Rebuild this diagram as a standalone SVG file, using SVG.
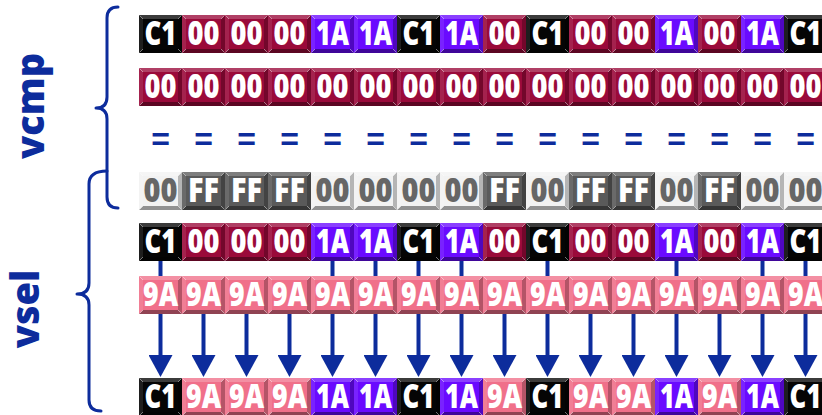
<svg xmlns="http://www.w3.org/2000/svg" width="822" height="415" viewBox="0 0 822 415">
<style>
.t{font-family:"Open Sans","Liberation Sans",Arial,sans-serif;font-weight:800;font-size:33px;text-anchor:middle;fill:#fff}
.g{fill:#666}
.lbl{font-family:"Open Sans","Liberation Sans",sans-serif;font-weight:800;font-size:38px;text-anchor:middle;fill:#0D2C9C}
.eq{font-family:"Liberation Sans",Arial,sans-serif;font-weight:bold;font-size:32px;text-anchor:middle;fill:#0D2C9C}
.brace{fill:none;stroke:#0D2C9C;stroke-width:3;stroke-linecap:round;stroke-linejoin:round}
.ar{stroke:#0D2C9C;stroke-width:4;fill:none}
</style>
<defs>
<marker id="ah" markerUnits="userSpaceOnUse" markerWidth="22" markerHeight="24" viewBox="0 0 22 24" refX="0" refY="12" orient="auto"><path d="M0,0 L22,12 L0,24 z" fill="#0D2C9C"/></marker>
<g id="bev">
<polygon points="0,0 43,0 39,4 4,4" fill="#fff" fill-opacity=".22"/>
<polygon points="0,0 4,4 4,34 0,38" fill="#fff" fill-opacity=".1"/>
<polygon points="43,0 43,38 39,34 39,4" fill="#000" fill-opacity=".25"/>
<polygon points="0,38 4,34 39,34 43,38" fill="#000" fill-opacity=".4"/>
<path d="M0.5,0.5 L4,4 M42.5,37.5 L39,34 M42.5,0.5 L39,4 M0.5,37.5 L4,34" stroke="#fff" stroke-opacity=".45" stroke-width="1"/>
</g>
<g id="k-C1"><rect width="43" height="38" fill="#050505"/><use href="#bev"/></g>
<g id="k-00"><rect width="43" height="38" fill="#9A0A3A"/><use href="#bev"/></g>
<g id="k-1A"><rect width="43" height="38" fill="#6A0AFF"/><use href="#bev"/></g>
<g id="k-9A"><rect width="43" height="38" fill="#F0708A"/><use href="#bev"/></g>
<g id="k-FF"><rect width="43" height="38" fill="#5A5A5A"/><use href="#bev"/></g>
<g id="k-0L"><rect width="43" height="38" fill="#F2F2F2"/><use href="#bev"/></g>
</defs>
<rect width="822" height="415" fill="#fff"/>

<g id="label-vcmp"><text class="lbl" transform="translate(44,106) rotate(-90)">vcmp</text></g>
<g id="label-vsel"><text class="lbl" transform="translate(39,309) rotate(-90)">vsel</text></g>
<g id="brace-vcmp"><path class="brace" d="M118,7 Q107,7 107,18 L107,97 Q107,108 96,108 Q107,108 107,119 L107,197 Q107,208 118,208"/></g>
<g id="brace-vsel"><path class="brace" d="M107,171 Q89,171 89,184 L89,283 Q89,294 77,294 Q89,294 89,305 L89,400 Q89,411 101,411"/></g>

<g id="connectors">
<line class="ar" x1="160.5" y1="261" x2="160.5" y2="355" marker-end="url(#ah)"/>
<line class="ar" x1="203.5" y1="314" x2="203.5" y2="355" marker-end="url(#ah)"/>
<line class="ar" x1="246.5" y1="314" x2="246.5" y2="355" marker-end="url(#ah)"/>
<line class="ar" x1="289.5" y1="314" x2="289.5" y2="355" marker-end="url(#ah)"/>
<line class="ar" x1="332.5" y1="261" x2="332.5" y2="355" marker-end="url(#ah)"/>
<line class="ar" x1="375.5" y1="261" x2="375.5" y2="355" marker-end="url(#ah)"/>
<line class="ar" x1="418.5" y1="261" x2="418.5" y2="355" marker-end="url(#ah)"/>
<line class="ar" x1="461.5" y1="261" x2="461.5" y2="355" marker-end="url(#ah)"/>
<line class="ar" x1="504.5" y1="314" x2="504.5" y2="355" marker-end="url(#ah)"/>
<line class="ar" x1="547.5" y1="261" x2="547.5" y2="355" marker-end="url(#ah)"/>
<line class="ar" x1="590.5" y1="314" x2="590.5" y2="355" marker-end="url(#ah)"/>
<line class="ar" x1="633.5" y1="314" x2="633.5" y2="355" marker-end="url(#ah)"/>
<line class="ar" x1="676.5" y1="261" x2="676.5" y2="355" marker-end="url(#ah)"/>
<line class="ar" x1="719.5" y1="314" x2="719.5" y2="355" marker-end="url(#ah)"/>
<line class="ar" x1="762.5" y1="261" x2="762.5" y2="355" marker-end="url(#ah)"/>
<line class="ar" x1="805.5" y1="261" x2="805.5" y2="355" marker-end="url(#ah)"/>
</g>

<g id="row1">
<g id="r1c0"><use href="#k-C1" x="139" y="15"/><text class="t" x="160.5" y="45" textLength="32" lengthAdjust="spacingAndGlyphs">C1</text></g>
<g id="r1c1"><use href="#k-00" x="182" y="15"/><text class="t" x="203.5" y="45" textLength="32" lengthAdjust="spacingAndGlyphs">00</text></g>
<g id="r1c2"><use href="#k-00" x="225" y="15"/><text class="t" x="246.5" y="45" textLength="32" lengthAdjust="spacingAndGlyphs">00</text></g>
<g id="r1c3"><use href="#k-00" x="268" y="15"/><text class="t" x="289.5" y="45" textLength="32" lengthAdjust="spacingAndGlyphs">00</text></g>
<g id="r1c4"><use href="#k-1A" x="311" y="15"/><text class="t" x="332.5" y="45" textLength="33" lengthAdjust="spacingAndGlyphs">1A</text></g>
<g id="r1c5"><use href="#k-1A" x="354" y="15"/><text class="t" x="375.5" y="45" textLength="33" lengthAdjust="spacingAndGlyphs">1A</text></g>
<g id="r1c6"><use href="#k-C1" x="397" y="15"/><text class="t" x="418.5" y="45" textLength="32" lengthAdjust="spacingAndGlyphs">C1</text></g>
<g id="r1c7"><use href="#k-1A" x="440" y="15"/><text class="t" x="461.5" y="45" textLength="33" lengthAdjust="spacingAndGlyphs">1A</text></g>
<g id="r1c8"><use href="#k-00" x="483" y="15"/><text class="t" x="504.5" y="45" textLength="32" lengthAdjust="spacingAndGlyphs">00</text></g>
<g id="r1c9"><use href="#k-C1" x="526" y="15"/><text class="t" x="547.5" y="45" textLength="32" lengthAdjust="spacingAndGlyphs">C1</text></g>
<g id="r1c10"><use href="#k-00" x="569" y="15"/><text class="t" x="590.5" y="45" textLength="32" lengthAdjust="spacingAndGlyphs">00</text></g>
<g id="r1c11"><use href="#k-00" x="612" y="15"/><text class="t" x="633.5" y="45" textLength="32" lengthAdjust="spacingAndGlyphs">00</text></g>
<g id="r1c12"><use href="#k-1A" x="655" y="15"/><text class="t" x="676.5" y="45" textLength="33" lengthAdjust="spacingAndGlyphs">1A</text></g>
<g id="r1c13"><use href="#k-00" x="698" y="15"/><text class="t" x="719.5" y="45" textLength="32" lengthAdjust="spacingAndGlyphs">00</text></g>
<g id="r1c14"><use href="#k-1A" x="741" y="15"/><text class="t" x="762.5" y="45" textLength="33" lengthAdjust="spacingAndGlyphs">1A</text></g>
<g id="r1c15"><use href="#k-C1" x="784" y="15"/><text class="t" x="805.5" y="45" textLength="32" lengthAdjust="spacingAndGlyphs">C1</text></g>
</g>

<g id="row2">
<g id="r2c0"><use href="#k-00" x="139" y="68"/><text class="t" x="160.5" y="98" textLength="32" lengthAdjust="spacingAndGlyphs">00</text></g>
<g id="r2c1"><use href="#k-00" x="182" y="68"/><text class="t" x="203.5" y="98" textLength="32" lengthAdjust="spacingAndGlyphs">00</text></g>
<g id="r2c2"><use href="#k-00" x="225" y="68"/><text class="t" x="246.5" y="98" textLength="32" lengthAdjust="spacingAndGlyphs">00</text></g>
<g id="r2c3"><use href="#k-00" x="268" y="68"/><text class="t" x="289.5" y="98" textLength="32" lengthAdjust="spacingAndGlyphs">00</text></g>
<g id="r2c4"><use href="#k-00" x="311" y="68"/><text class="t" x="332.5" y="98" textLength="32" lengthAdjust="spacingAndGlyphs">00</text></g>
<g id="r2c5"><use href="#k-00" x="354" y="68"/><text class="t" x="375.5" y="98" textLength="32" lengthAdjust="spacingAndGlyphs">00</text></g>
<g id="r2c6"><use href="#k-00" x="397" y="68"/><text class="t" x="418.5" y="98" textLength="32" lengthAdjust="spacingAndGlyphs">00</text></g>
<g id="r2c7"><use href="#k-00" x="440" y="68"/><text class="t" x="461.5" y="98" textLength="32" lengthAdjust="spacingAndGlyphs">00</text></g>
<g id="r2c8"><use href="#k-00" x="483" y="68"/><text class="t" x="504.5" y="98" textLength="32" lengthAdjust="spacingAndGlyphs">00</text></g>
<g id="r2c9"><use href="#k-00" x="526" y="68"/><text class="t" x="547.5" y="98" textLength="32" lengthAdjust="spacingAndGlyphs">00</text></g>
<g id="r2c10"><use href="#k-00" x="569" y="68"/><text class="t" x="590.5" y="98" textLength="32" lengthAdjust="spacingAndGlyphs">00</text></g>
<g id="r2c11"><use href="#k-00" x="612" y="68"/><text class="t" x="633.5" y="98" textLength="32" lengthAdjust="spacingAndGlyphs">00</text></g>
<g id="r2c12"><use href="#k-00" x="655" y="68"/><text class="t" x="676.5" y="98" textLength="32" lengthAdjust="spacingAndGlyphs">00</text></g>
<g id="r2c13"><use href="#k-00" x="698" y="68"/><text class="t" x="719.5" y="98" textLength="32" lengthAdjust="spacingAndGlyphs">00</text></g>
<g id="r2c14"><use href="#k-00" x="741" y="68"/><text class="t" x="762.5" y="98" textLength="32" lengthAdjust="spacingAndGlyphs">00</text></g>
<g id="r2c15"><use href="#k-00" x="784" y="68"/><text class="t" x="805.5" y="98" textLength="32" lengthAdjust="spacingAndGlyphs">00</text></g>
</g>

<g id="row3-equals">
<text class="eq" x="160.5" y="150">=</text><text class="eq" x="203.5" y="150">=</text><text class="eq" x="246.5" y="150">=</text><text class="eq" x="289.5" y="150">=</text>
<text class="eq" x="332.5" y="150">=</text><text class="eq" x="375.5" y="150">=</text><text class="eq" x="418.5" y="150">=</text><text class="eq" x="461.5" y="150">=</text>
<text class="eq" x="504.5" y="150">=</text><text class="eq" x="547.5" y="150">=</text><text class="eq" x="590.5" y="150">=</text><text class="eq" x="633.5" y="150">=</text>
<text class="eq" x="676.5" y="150">=</text><text class="eq" x="719.5" y="150">=</text><text class="eq" x="762.5" y="150">=</text><text class="eq" x="805.5" y="150">=</text>
</g>

<g id="row4">
<g id="r4c0"><use href="#k-0L" x="139" y="172"/><text class="t g" x="160.5" y="202" textLength="34" lengthAdjust="spacingAndGlyphs">00</text></g>
<g id="r4c1"><use href="#k-FF" x="182" y="172"/><text class="t" x="203.5" y="202" textLength="31" lengthAdjust="spacingAndGlyphs">FF</text></g>
<g id="r4c2"><use href="#k-FF" x="225" y="172"/><text class="t" x="246.5" y="202" textLength="31" lengthAdjust="spacingAndGlyphs">FF</text></g>
<g id="r4c3"><use href="#k-FF" x="268" y="172"/><text class="t" x="289.5" y="202" textLength="31" lengthAdjust="spacingAndGlyphs">FF</text></g>
<g id="r4c4"><use href="#k-0L" x="311" y="172"/><text class="t g" x="332.5" y="202" textLength="34" lengthAdjust="spacingAndGlyphs">00</text></g>
<g id="r4c5"><use href="#k-0L" x="354" y="172"/><text class="t g" x="375.5" y="202" textLength="34" lengthAdjust="spacingAndGlyphs">00</text></g>
<g id="r4c6"><use href="#k-0L" x="397" y="172"/><text class="t g" x="418.5" y="202" textLength="34" lengthAdjust="spacingAndGlyphs">00</text></g>
<g id="r4c7"><use href="#k-0L" x="440" y="172"/><text class="t g" x="461.5" y="202" textLength="34" lengthAdjust="spacingAndGlyphs">00</text></g>
<g id="r4c8"><use href="#k-FF" x="483" y="172"/><text class="t" x="504.5" y="202" textLength="31" lengthAdjust="spacingAndGlyphs">FF</text></g>
<g id="r4c9"><use href="#k-0L" x="526" y="172"/><text class="t g" x="547.5" y="202" textLength="34" lengthAdjust="spacingAndGlyphs">00</text></g>
<g id="r4c10"><use href="#k-FF" x="569" y="172"/><text class="t" x="590.5" y="202" textLength="31" lengthAdjust="spacingAndGlyphs">FF</text></g>
<g id="r4c11"><use href="#k-FF" x="612" y="172"/><text class="t" x="633.5" y="202" textLength="31" lengthAdjust="spacingAndGlyphs">FF</text></g>
<g id="r4c12"><use href="#k-0L" x="655" y="172"/><text class="t g" x="676.5" y="202" textLength="34" lengthAdjust="spacingAndGlyphs">00</text></g>
<g id="r4c13"><use href="#k-FF" x="698" y="172"/><text class="t" x="719.5" y="202" textLength="31" lengthAdjust="spacingAndGlyphs">FF</text></g>
<g id="r4c14"><use href="#k-0L" x="741" y="172"/><text class="t g" x="762.5" y="202" textLength="34" lengthAdjust="spacingAndGlyphs">00</text></g>
<g id="r4c15"><use href="#k-0L" x="784" y="172"/><text class="t g" x="805.5" y="202" textLength="34" lengthAdjust="spacingAndGlyphs">00</text></g>
</g>

<g id="row5">
<g id="r5c0"><use href="#k-C1" x="139" y="223"/><text class="t" x="160.5" y="253" textLength="32" lengthAdjust="spacingAndGlyphs">C1</text></g>
<g id="r5c1"><use href="#k-00" x="182" y="223"/><text class="t" x="203.5" y="253" textLength="32" lengthAdjust="spacingAndGlyphs">00</text></g>
<g id="r5c2"><use href="#k-00" x="225" y="223"/><text class="t" x="246.5" y="253" textLength="32" lengthAdjust="spacingAndGlyphs">00</text></g>
<g id="r5c3"><use href="#k-00" x="268" y="223"/><text class="t" x="289.5" y="253" textLength="32" lengthAdjust="spacingAndGlyphs">00</text></g>
<g id="r5c4"><use href="#k-1A" x="311" y="223"/><text class="t" x="332.5" y="253" textLength="33" lengthAdjust="spacingAndGlyphs">1A</text></g>
<g id="r5c5"><use href="#k-1A" x="354" y="223"/><text class="t" x="375.5" y="253" textLength="33" lengthAdjust="spacingAndGlyphs">1A</text></g>
<g id="r5c6"><use href="#k-C1" x="397" y="223"/><text class="t" x="418.5" y="253" textLength="32" lengthAdjust="spacingAndGlyphs">C1</text></g>
<g id="r5c7"><use href="#k-1A" x="440" y="223"/><text class="t" x="461.5" y="253" textLength="33" lengthAdjust="spacingAndGlyphs">1A</text></g>
<g id="r5c8"><use href="#k-00" x="483" y="223"/><text class="t" x="504.5" y="253" textLength="32" lengthAdjust="spacingAndGlyphs">00</text></g>
<g id="r5c9"><use href="#k-C1" x="526" y="223"/><text class="t" x="547.5" y="253" textLength="32" lengthAdjust="spacingAndGlyphs">C1</text></g>
<g id="r5c10"><use href="#k-00" x="569" y="223"/><text class="t" x="590.5" y="253" textLength="32" lengthAdjust="spacingAndGlyphs">00</text></g>
<g id="r5c11"><use href="#k-00" x="612" y="223"/><text class="t" x="633.5" y="253" textLength="32" lengthAdjust="spacingAndGlyphs">00</text></g>
<g id="r5c12"><use href="#k-1A" x="655" y="223"/><text class="t" x="676.5" y="253" textLength="33" lengthAdjust="spacingAndGlyphs">1A</text></g>
<g id="r5c13"><use href="#k-00" x="698" y="223"/><text class="t" x="719.5" y="253" textLength="32" lengthAdjust="spacingAndGlyphs">00</text></g>
<g id="r5c14"><use href="#k-1A" x="741" y="223"/><text class="t" x="762.5" y="253" textLength="33" lengthAdjust="spacingAndGlyphs">1A</text></g>
<g id="r5c15"><use href="#k-C1" x="784" y="223"/><text class="t" x="805.5" y="253" textLength="32" lengthAdjust="spacingAndGlyphs">C1</text></g>
</g>

<g id="row6">
<g id="r6c0"><use href="#k-9A" x="139" y="276"/><text class="t" x="160.5" y="306" textLength="35" lengthAdjust="spacingAndGlyphs">9A</text></g>
<g id="r6c1"><use href="#k-9A" x="182" y="276"/><text class="t" x="203.5" y="306" textLength="35" lengthAdjust="spacingAndGlyphs">9A</text></g>
<g id="r6c2"><use href="#k-9A" x="225" y="276"/><text class="t" x="246.5" y="306" textLength="35" lengthAdjust="spacingAndGlyphs">9A</text></g>
<g id="r6c3"><use href="#k-9A" x="268" y="276"/><text class="t" x="289.5" y="306" textLength="35" lengthAdjust="spacingAndGlyphs">9A</text></g>
<g id="r6c4"><use href="#k-9A" x="311" y="276"/><text class="t" x="332.5" y="306" textLength="35" lengthAdjust="spacingAndGlyphs">9A</text></g>
<g id="r6c5"><use href="#k-9A" x="354" y="276"/><text class="t" x="375.5" y="306" textLength="35" lengthAdjust="spacingAndGlyphs">9A</text></g>
<g id="r6c6"><use href="#k-9A" x="397" y="276"/><text class="t" x="418.5" y="306" textLength="35" lengthAdjust="spacingAndGlyphs">9A</text></g>
<g id="r6c7"><use href="#k-9A" x="440" y="276"/><text class="t" x="461.5" y="306" textLength="35" lengthAdjust="spacingAndGlyphs">9A</text></g>
<g id="r6c8"><use href="#k-9A" x="483" y="276"/><text class="t" x="504.5" y="306" textLength="35" lengthAdjust="spacingAndGlyphs">9A</text></g>
<g id="r6c9"><use href="#k-9A" x="526" y="276"/><text class="t" x="547.5" y="306" textLength="35" lengthAdjust="spacingAndGlyphs">9A</text></g>
<g id="r6c10"><use href="#k-9A" x="569" y="276"/><text class="t" x="590.5" y="306" textLength="35" lengthAdjust="spacingAndGlyphs">9A</text></g>
<g id="r6c11"><use href="#k-9A" x="612" y="276"/><text class="t" x="633.5" y="306" textLength="35" lengthAdjust="spacingAndGlyphs">9A</text></g>
<g id="r6c12"><use href="#k-9A" x="655" y="276"/><text class="t" x="676.5" y="306" textLength="35" lengthAdjust="spacingAndGlyphs">9A</text></g>
<g id="r6c13"><use href="#k-9A" x="698" y="276"/><text class="t" x="719.5" y="306" textLength="35" lengthAdjust="spacingAndGlyphs">9A</text></g>
<g id="r6c14"><use href="#k-9A" x="741" y="276"/><text class="t" x="762.5" y="306" textLength="35" lengthAdjust="spacingAndGlyphs">9A</text></g>
<g id="r6c15"><use href="#k-9A" x="784" y="276"/><text class="t" x="805.5" y="306" textLength="35" lengthAdjust="spacingAndGlyphs">9A</text></g>
</g>

<g id="row7">
<g id="r7c0"><use href="#k-C1" x="139" y="378"/><text class="t" x="160.5" y="408" textLength="32" lengthAdjust="spacingAndGlyphs">C1</text></g>
<g id="r7c1"><use href="#k-9A" x="182" y="378"/><text class="t" x="203.5" y="408" textLength="35" lengthAdjust="spacingAndGlyphs">9A</text></g>
<g id="r7c2"><use href="#k-9A" x="225" y="378"/><text class="t" x="246.5" y="408" textLength="35" lengthAdjust="spacingAndGlyphs">9A</text></g>
<g id="r7c3"><use href="#k-9A" x="268" y="378"/><text class="t" x="289.5" y="408" textLength="35" lengthAdjust="spacingAndGlyphs">9A</text></g>
<g id="r7c4"><use href="#k-1A" x="311" y="378"/><text class="t" x="332.5" y="408" textLength="33" lengthAdjust="spacingAndGlyphs">1A</text></g>
<g id="r7c5"><use href="#k-1A" x="354" y="378"/><text class="t" x="375.5" y="408" textLength="33" lengthAdjust="spacingAndGlyphs">1A</text></g>
<g id="r7c6"><use href="#k-C1" x="397" y="378"/><text class="t" x="418.5" y="408" textLength="32" lengthAdjust="spacingAndGlyphs">C1</text></g>
<g id="r7c7"><use href="#k-1A" x="440" y="378"/><text class="t" x="461.5" y="408" textLength="33" lengthAdjust="spacingAndGlyphs">1A</text></g>
<g id="r7c8"><use href="#k-9A" x="483" y="378"/><text class="t" x="504.5" y="408" textLength="35" lengthAdjust="spacingAndGlyphs">9A</text></g>
<g id="r7c9"><use href="#k-C1" x="526" y="378"/><text class="t" x="547.5" y="408" textLength="32" lengthAdjust="spacingAndGlyphs">C1</text></g>
<g id="r7c10"><use href="#k-9A" x="569" y="378"/><text class="t" x="590.5" y="408" textLength="35" lengthAdjust="spacingAndGlyphs">9A</text></g>
<g id="r7c11"><use href="#k-9A" x="612" y="378"/><text class="t" x="633.5" y="408" textLength="35" lengthAdjust="spacingAndGlyphs">9A</text></g>
<g id="r7c12"><use href="#k-1A" x="655" y="378"/><text class="t" x="676.5" y="408" textLength="33" lengthAdjust="spacingAndGlyphs">1A</text></g>
<g id="r7c13"><use href="#k-9A" x="698" y="378"/><text class="t" x="719.5" y="408" textLength="35" lengthAdjust="spacingAndGlyphs">9A</text></g>
<g id="r7c14"><use href="#k-1A" x="741" y="378"/><text class="t" x="762.5" y="408" textLength="33" lengthAdjust="spacingAndGlyphs">1A</text></g>
<g id="r7c15"><use href="#k-C1" x="784" y="378"/><text class="t" x="805.5" y="408" textLength="32" lengthAdjust="spacingAndGlyphs">C1</text></g>
</g>
</svg>
